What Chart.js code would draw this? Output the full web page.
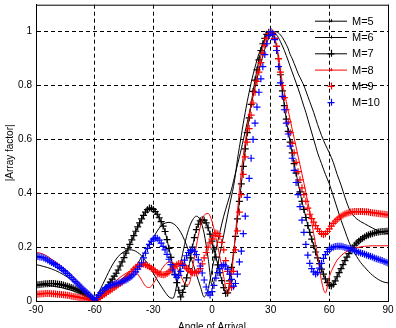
<!DOCTYPE html>
<html>
<head>
<meta charset="utf-8">
<script src="https://cdn.jsdelivr.net/npm/chart.js@4.4.1/dist/chart.umd.min.js"></script>
<style>
  html, body { margin: 0; padding: 0; background: #fff; }
  #wrap { width: 396px; height: 328px; position: relative; }
</style>
</head>
<body>
<div id="wrap"><canvas id="af-chart"></canvas></div>
<script>
// angle of arrival (deg), 1 deg steps - used by the marker series
const angles = [-90,-89,-88,-87,-86,-85,-84,-83,-82,-81,-80,-79,-78,-77,-76,-75,-74,-73,-72,-71,-70,-69,-68,-67,-66,-65,-64,-63,-62,-61,
  -60,-59,-58,-57,-56,-55,-54,-53,-52,-51,-50,-49,-48,-47,-46,-45,-44,-43,-42,-41,-40,-39,-38,-37,-36,-35,-34,-33,-32,-31,
  -30,-29,-28,-27,-26,-25,-24,-23,-22,-21,-20,-19,-18,-17,-16,-15,-14,-13,-12,-11,-10,-9,-8,-7,-6,-5,-4,-3,-2,-1,
  0,1,2,3,4,5,6,7,8,9,10,11,12,13,14,15,16,17,18,19,20,21,22,23,24,25,26,27,28,29,
  30,31,32,33,34,35,36,37,38,39,40,41,42,43,44,45,46,47,48,49,50,51,52,53,54,55,56,57,58,59,
  60,61,62,63,64,65,66,67,68,69,70,71,72,73,74,75,76,77,78,79,80,81,82,83,84,85,86,87,88,89,90];

// coarser angle list for the plain line series (2 deg, 1 deg round the main lobe)
const anglesCoarse = [-90,-88,-86,-84,-82,-80,-78,-76,-74,-72,-70,-68,-66,-64,-62,-60,-58,-56,-54,-52,-50,-48,-46,-44,-42,-40,-38,-36,-34,-32,-30,-28,-26,-24,-22,-20,-18,-16,-14,-12,-10,-8,-6,-4,-2,0,2,4,6,8,
  10,11,12,13,14,15,16,17,18,19,20,21,22,23,24,25,26,27,28,29,30,31,32,33,34,35,36,37,38,39,40,41,42,43,44,45,46,47,48,49,50,
  52,54,56,58,60,62,64,66,68,70,72,74,76,78,80,82,84,86,88,90];

// |array factor|
// M=5, M=6, M=8 on anglesCoarse
const m5 = [0.135,0.132,0.128,0.124,0.119,0.113,0.106,0.098,0.089,0.079,0.068,0.056,0.043,0.030,0.016,0.002,0.010,0.020,0.030,0.042,0.055,0.068,0.082,0.095,0.108,0.120,0.140,0.163,0.187,0.211,0.235,0.260,0.279,0.289,0.292,0.288,0.276,0.255,0.225,0.188,0.145,0.100,0.055,0.015,0.045,0.115,0.190,0.255,0.315,0.365,
  0.415,0.445,0.475,0.505,0.535,0.565,0.598,0.630,0.662,0.695,0.728,0.760,0.792,0.825,0.855,0.885,0.910,0.935,0.957,0.975,0.988,0.996,1.000,0.999,0.995,0.988,0.978,0.966,0.952,0.936,0.915,0.900,0.882,0.864,0.845,0.830,0.815,0.800,0.780,0.760,0.740,
  0.700,0.655,0.615,0.580,0.550,0.515,0.470,0.430,0.385,0.345,0.320,0.305,0.295,0.287,0.279,0.271,0.264,0.258,0.253,0.250];
const m6 = [0.060,0.060,0.059,0.058,0.056,0.054,0.051,0.048,0.044,0.040,0.035,0.030,0.024,0.017,0.009,0.002,0.030,0.060,0.090,0.120,0.145,0.165,0.178,0.187,0.190,0.188,0.180,0.168,0.150,0.128,0.103,0.078,0.055,0.033,0.015,0.010,0.060,0.140,0.210,0.265,0.300,0.315,0.300,0.250,0.160,0.060,0.100,0.175,0.245,0.320,
  0.390,0.425,0.470,0.525,0.570,0.615,0.660,0.700,0.740,0.775,0.810,0.840,0.868,0.895,0.918,0.938,0.956,0.972,0.985,0.994,0.999,1.000,0.996,0.988,0.977,0.963,0.947,0.930,0.911,0.891,0.870,0.850,0.830,0.810,0.790,0.768,0.745,0.722,0.700,0.675,0.650,
  0.600,0.550,0.510,0.470,0.435,0.390,0.345,0.300,0.260,0.220,0.190,0.165,0.143,0.126,0.110,0.096,0.085,0.076,0.070,0.067];
const m8 = [0.180,0.178,0.173,0.165,0.155,0.145,0.134,0.122,0.108,0.094,0.080,0.065,0.050,0.035,0.018,0.003,0.015,0.030,0.045,0.058,0.070,0.082,0.093,0.103,0.110,0.112,0.100,0.078,0.055,0.050,0.065,0.090,0.115,0.135,0.145,0.142,0.125,0.095,0.065,0.060,0.120,0.205,0.275,0.318,0.325,0.295,0.235,0.165,0.090,0.025,
  0.100,0.170,0.250,0.330,0.410,0.480,0.540,0.590,0.640,0.690,0.730,0.770,0.800,0.840,0.875,0.910,0.940,0.965,0.985,0.997,1.000,0.994,0.978,0.950,0.910,0.860,0.810,0.775,0.740,0.705,0.672,0.638,0.605,0.572,0.538,0.505,0.472,0.438,0.403,0.368,0.332,
  0.250,0.166,0.075,0.030,0.090,0.125,0.152,0.168,0.180,0.188,0.194,0.198,0.201,0.203,0.204,0.205,0.205,0.205,0.205,0.205];

// M=7, M=9, M=10 on angles (1 deg)
const m7 = [0.058,0.060,0.061,0.062,0.063,0.064,0.064,0.065,0.065,0.065,0.064,0.063,0.062,0.061,0.059,0.057,0.055,0.053,0.050,0.048,0.045,0.042,0.039,0.035,0.031,0.027,0.022,0.017,0.012,0.007,
  0.002,0.006,0.012,0.020,0.028,0.038,0.048,0.059,0.070,0.081,0.092,0.103,0.115,0.130,0.145,0.161,0.178,0.194,0.210,0.227,0.243,0.259,0.275,0.290,0.305,0.318,0.330,0.339,0.345,0.344,
  0.340,0.332,0.322,0.309,0.295,0.278,0.258,0.228,0.195,0.162,0.130,0.099,0.068,0.040,0.015,0.032,0.055,0.086,0.120,0.160,0.200,0.235,0.265,0.285,0.298,0.302,0.300,0.290,0.272,0.248,
  0.222,0.193,0.163,0.134,0.105,0.076,0.050,0.028,0.030,0.075,0.125,0.180,0.240,0.305,0.370,0.435,0.500,0.565,0.625,0.680,0.730,0.778,0.820,0.858,0.895,0.930,0.955,0.975,0.990,0.998,
  1.000,0.993,0.975,0.945,0.900,0.840,0.780,0.725,0.675,0.630,0.590,0.550,0.510,0.475,0.440,0.405,0.370,0.340,0.310,0.280,0.255,0.230,0.205,0.182,0.160,0.139,0.118,0.100,0.082,0.068,
  0.058,0.056,0.062,0.075,0.090,0.105,0.120,0.135,0.150,0.163,0.176,0.188,0.198,0.207,0.215,0.222,0.228,0.233,0.238,0.242,0.245,0.248,0.250,0.252,0.254,0.256,0.257,0.258,0.258,0.259,0.259];
const m9 = [0.025,0.025,0.026,0.027,0.027,0.028,0.028,0.028,0.027,0.027,0.026,0.025,0.025,0.024,0.023,0.022,0.021,0.020,0.019,0.017,0.016,0.015,0.013,0.012,0.011,0.009,0.008,0.006,0.004,0.002,
  0.000,0.005,0.010,0.015,0.020,0.025,0.030,0.035,0.040,0.045,0.050,0.055,0.060,0.065,0.070,0.077,0.085,0.092,0.100,0.109,0.118,0.125,0.130,0.134,0.137,0.137,0.135,0.131,0.127,0.122,
  0.117,0.111,0.106,0.101,0.098,0.097,0.098,0.102,0.108,0.115,0.122,0.129,0.135,0.139,0.140,0.136,0.130,0.122,0.115,0.109,0.105,0.104,0.105,0.110,0.120,0.138,0.160,0.180,0.200,0.216,
  0.230,0.243,0.252,0.250,0.240,0.218,0.190,0.150,0.110,0.065,0.050,0.110,0.190,0.260,0.330,0.395,0.470,0.535,0.590,0.640,0.690,0.735,0.775,0.815,0.850,0.885,0.920,0.950,0.975,0.993,
  1.000,0.995,0.975,0.945,0.900,0.850,0.800,0.755,0.710,0.665,0.625,0.585,0.550,0.515,0.480,0.450,0.420,0.395,0.370,0.345,0.322,0.306,0.293,0.280,0.268,0.258,0.250,0.247,0.250,0.258,
  0.268,0.278,0.288,0.296,0.303,0.309,0.315,0.319,0.323,0.326,0.328,0.330,0.331,0.332,0.332,0.332,0.332,0.332,0.331,0.331,0.330,0.329,0.328,0.327,0.326,0.325,0.324,0.323,0.322,0.321,0.320];
const m10 = [0.166,0.165,0.163,0.162,0.160,0.156,0.152,0.148,0.143,0.139,0.135,0.130,0.125,0.120,0.114,0.108,0.102,0.095,0.088,0.080,0.073,0.066,0.059,0.052,0.045,0.038,0.032,0.025,0.018,0.011,
  0.005,0.013,0.022,0.030,0.038,0.044,0.050,0.054,0.058,0.061,0.063,0.065,0.067,0.069,0.072,0.075,0.078,0.082,0.087,0.093,0.100,0.108,0.118,0.129,0.142,0.160,0.178,0.195,0.210,0.222,
  0.230,0.234,0.233,0.226,0.215,0.203,0.190,0.173,0.155,0.135,0.115,0.097,0.088,0.095,0.110,0.132,0.152,0.168,0.180,0.187,0.190,0.184,0.172,0.153,0.130,0.104,0.078,0.052,0.030,0.022,
  0.035,0.058,0.085,0.105,0.120,0.130,0.135,0.130,0.118,0.100,0.080,0.055,0.065,0.100,0.145,0.185,0.250,0.315,0.385,0.455,0.530,0.600,0.660,0.720,0.775,0.825,0.870,0.915,0.955,0.985,
  1.000,0.990,0.970,0.930,0.870,0.810,0.760,0.710,0.660,0.620,0.575,0.530,0.485,0.440,0.395,0.350,0.300,0.255,0.210,0.170,0.140,0.120,0.108,0.100,0.105,0.122,0.140,0.158,0.172,0.183,
  0.192,0.197,0.200,0.202,0.203,0.203,0.203,0.201,0.199,0.197,0.195,0.193,0.190,0.187,0.184,0.181,0.178,0.176,0.174,0.171,0.168,0.166,0.163,0.160,0.157,0.155,0.152,0.150,0.147,0.144,0.141];

const xTicks = [-90, -60, -30, 0, 30, 60, 90];
const yTicks = [0, 0.2, 0.4, 0.6, 0.8, 1];

const FONT = '"Liberation Sans", Arial, sans-serif';

function pts(xs, vals) {
  return xs.map((a, i) => ({ x: a, y: vals[i] }));
}

// series styles (legend reads these too)
const series = [
  { label: 'M=5',  xs: anglesCoarse, vals: m5,  color: '#000000', line: true,  marker: false, order: 6 },
  { label: 'M=6',  xs: anglesCoarse, vals: m6,  color: '#000000', line: true,  marker: false, order: 5 },
  { label: 'M=7',  xs: angles,       vals: m7,  color: '#000000', line: true,  marker: true,  order: 4 },
  { label: 'M=8',  xs: anglesCoarse, vals: m8,  color: '#ff0000', line: true,  marker: false, order: 3 },
  { label: 'M=9',  xs: angles,       vals: m9,  color: '#ff0000', line: false, marker: true,  order: 2 },
  { label: 'M=10', xs: angles,       vals: m10, color: '#0000ff', line: false, marker: true,  order: 1 }
];

// frame + legend drawn inside the plot box, matlab style
const boxPlugin = {
  id: 'boxPlugin',
  afterDraw(chart) {
    const { ctx, chartArea: a } = chart;
    ctx.save();
    ctx.strokeStyle = '#000';
    ctx.lineWidth = 1;
    ctx.setLineDash([]);
    ctx.strokeRect(a.left + 0.5, a.top + 0.5, a.right - a.left, a.bottom - a.top);

    const x0 = a.right - 73, x1 = a.right - 41, tx = a.right - 36;
    ctx.font = '11px ' + FONT;
    ctx.textBaseline = 'middle';
    series.forEach((s, i) => {
      const y = a.top + 16 + i * 16.3;
      ctx.strokeStyle = s.color;
      ctx.lineWidth = 1;
      if (s.line) {
        ctx.beginPath();
        ctx.moveTo(x0, y + 0.5);
        ctx.lineTo(x1, y + 0.5);
        ctx.stroke();
      }
      const mx = (x0 + x1) / 2;
      const r = s.marker ? 3.5 : 1.5;
      ctx.lineWidth = s.marker ? 1.2 : 1;
      ctx.beginPath();
      ctx.moveTo(mx - r, y + 0.5); ctx.lineTo(mx + r, y + 0.5);
      ctx.moveTo(mx + 0.5, y - r); ctx.lineTo(mx + 0.5, y + r);
      ctx.stroke();
      ctx.fillStyle = '#000';
      ctx.fillText(s.label, tx, y + 1);
    });
    ctx.restore();
  }
};

new Chart(document.getElementById('af-chart'), {
  type: 'line',
  data: {
    datasets: series.map(s => ({
      label: s.label,
      data: pts(s.xs, s.vals),
      order: s.order,
      showLine: s.line,
      borderColor: s.color,
      backgroundColor: s.color,
      borderWidth: 1,
      fill: false,
      cubicInterpolationMode: 'monotone',
      pointStyle: 'cross',
      pointRadius: s.marker ? 3.5 : 0,
      pointBorderWidth: 1.2,
      pointBorderColor: s.color,
      pointHoverRadius: 0
    }))
  },
  options: {
    responsive: true,
    maintainAspectRatio: false,
    animation: false,
    layout: { padding: { top: 4, right: 8, left: 0, bottom: 0 } },
    plugins: { legend: { display: false }, tooltip: { enabled: false } },
    scales: {
      x: {
        type: 'linear',
        min: -90,
        max: 90,
        afterBuildTicks: s => { s.ticks = xTicks.map(v => ({ value: v })); },
        afterFit: s => { s.height = 27; s.paddingLeft = 0; s.paddingRight = 0; },
        ticks: { color: '#000', font: { family: FONT, size: 10 }, padding: 3, maxRotation: 0 },
        grid: { color: '#000', lineWidth: 1, drawTicks: false },
        border: { display: true, color: '#000', dash: [4, 3] },
        title: { display: true, text: 'Angle of Arrival', color: '#000', font: { family: FONT, size: 10 }, padding: { top: 0, bottom: -5 } }
      },
      y: {
        type: 'linear',
        min: 0,
        max: 1.1,
        afterBuildTicks: s => { s.ticks = yTicks.map(v => ({ value: v })); },
        afterFit: s => { s.width = 36; s.paddingTop = 0; s.paddingBottom = 0; },
        ticks: { color: '#000', font: { family: FONT, size: 10 }, padding: 4, callback: v => String(v) },
        grid: { color: '#000', lineWidth: 1, drawTicks: false },
        border: { display: true, color: '#000', dash: [4, 3] },
        title: { display: true, text: '|Array factor|', color: '#000', font: { family: FONT, size: 10 }, padding: { top: 4, bottom: 0 } }
      }
    }
  },
  plugins: [boxPlugin]
});
</script>
</body>
</html>
